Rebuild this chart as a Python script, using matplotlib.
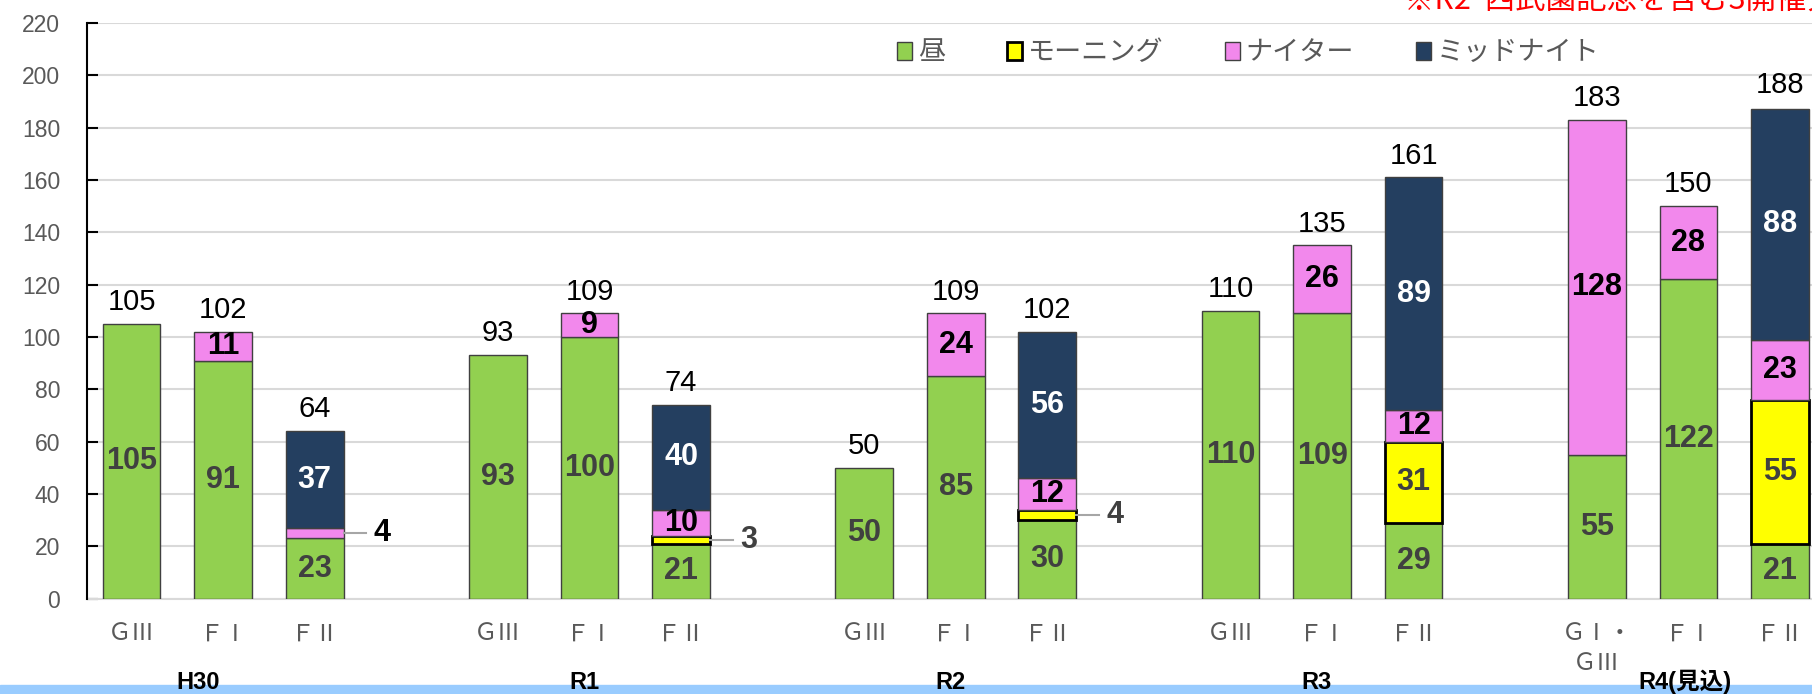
import numpy as np
import matplotlib.pyplot as plt
from matplotlib.patches import Rectangle, Patch
from matplotlib.transforms import blended_transform_factory

# Dane
groups = ['H30', 'R1', 'R2', 'R3', 'R4(見込)']
cats = ['ＧⅢ', 'ＦⅠ', 'ＦⅡ'] * 4 + ['ＧⅠ・\nＧⅢ', 'ＦⅠ', 'ＦⅡ']
hiru = [105, 91, 23, 93, 100, 21, 50, 85, 30, 110, 109, 29, 55, 122, 21]
morning = [0, 0, 0, 0, 0, 3, 0, 0, 4, 0, 0, 31, 0, 0, 55]
nighter = [0, 11, 4, 0, 9, 10, 0, 24, 12, 0, 26, 12, 128, 28, 23]
midnight = [0, 0, 37, 0, 0, 40, 0, 0, 56, 0, 0, 89, 0, 0, 88]
totals = [105, 102, 64, 93, 109, 74, 50, 109, 102, 110, 135, 161, 183, 150, 188]

series = [
    ('昼', hiru, '#92d050', '#404040', 1.0, '#404040'),
    ('モーニング', morning, '#ffff00', '#000000', 2.0, '#404040'),
    ('ナイター', nighter, '#f288ec', '#404040', 1.0, '#000000'),
    ('ミッドナイト', midnight, '#243f60', '#404040', 1.0, '#ffffff'),
]

jp = ['Noto Sans CJK JP', 'DejaVu Sans']
num = ['Liberation Sans', 'Noto Sans CJK JP', 'DejaVu Sans']

# pozycje słupków: 3 w grupie, przerwa jednej szerokości
x = np.array([g * 4 + i for g in range(5) for i in range(3)], dtype=float)
w = 0.63

fig = plt.figure(figsize=(18.12, 6.94), dpi=100)
fig.patches.append(Rectangle((0, 0), 1, 9 / 694, transform=fig.transFigure,
                             color='#99ccff', zorder=-1))
ax = fig.add_axes([86.7 / 1812, 95.4 / 694, 1 - 86.7 / 1812, 575.6 / 694])

bottom = np.zeros(len(x))
for name, vals, col, ec, lw, tc in series:
    vals = np.array(vals, dtype=float)
    for i in range(len(x)):
        v = vals[i]
        if v <= 0:
            continue
        ax.bar(x[i], v, w, bottom=bottom[i], color=col, edgecolor=ec,
               linewidth=lw, zorder=3)
        yc = bottom[i] + v / 2
        if v >= 8:
            ax.text(x[i], yc, f'{int(v)}', ha='center', va='center',
                    fontsize=22, fontweight='bold', color=tc, family=num,
                    zorder=5)
        else:
            # mała wartość: etykieta z linią odniesienia
            ax.plot([x[i] + w / 2, x[i] + w / 2 + 0.25], [yc, yc],
                    color='#a6a6a6', lw=1.5, zorder=4)
            ax.text(x[i] + w / 2 + 0.42, yc, f'{int(v)}', ha='center',
                    va='center', fontsize=22, fontweight='bold', color=tc,
                    family=num, zorder=5)
    bottom += vals

for xi, t in zip(x, totals):
    ax.text(xi, t + 3, str(t), ha='center', va='bottom', fontsize=21,
            color='#000000', family=num)

ax.set_xlim(-0.49, 18.35)
ax.set_ylim(0, 220)
ax.set_yticks(np.arange(0, 221, 20))
ax.set_xticks(x)
ax.set_xticklabels(cats, family=jp, fontsize=17, color='#595959',
                   linespacing=1.35, va='top')
ax.tick_params(axis='x', length=0, pad=17)
ax.tick_params(axis='y', direction='in', length=8, width=1.5, pad=19,
               labelsize=16.5, labelcolor='#595959')
for lab in ax.get_yticklabels():
    lab.set_family(num)

ax.grid(axis='y', color='#d9d9d9', lw=1.5, zorder=0)
ax.set_axisbelow(True)
for s in ['top', 'right']:
    ax.spines[s].set_visible(False)
ax.spines['left'].set_linewidth(1.5)
ax.spines['left'].set_zorder(6)
ax.spines['bottom'].set_color('#d9d9d9')
ax.spines['bottom'].set_linewidth(1.5)

# podpisy grup pod osią
group_x = [0.73, 4.94, 8.94, 12.94, 16.96]
tr = blended_transform_factory(ax.transData, fig.transFigure)
for gx, g in zip(group_x, groups):
    fig.text(gx, 1 - 689 / 694, g, transform=tr, ha='center', va='baseline',
             fontsize=17, fontweight='bold', family=num, color='#000000')

handles = [Patch(facecolor=c, edgecolor=ec, linewidth=lw)
           for _, _, c, ec, lw, _ in series]
leg = fig.legend(handles, [s[0] for s in series], loc='center',
                 bbox_to_anchor=(0.689, 0.924), ncol=4, frameon=False,
                 handlelength=0.55, handleheight=0.65, handletextpad=0.2,
                 columnspacing=2.3, prop={'family': jp, 'size': 19.5})
for t in leg.get_texts():
    t.set_color('#595959')

fig.text(1404 / 1812, 1 - 9 / 694, '※R2  西武園記念を含む3開催分中止',
         ha='left', va='baseline', fontsize=22, color='#ff0000', family=jp)

fig.savefig('out.png', dpi=100)
